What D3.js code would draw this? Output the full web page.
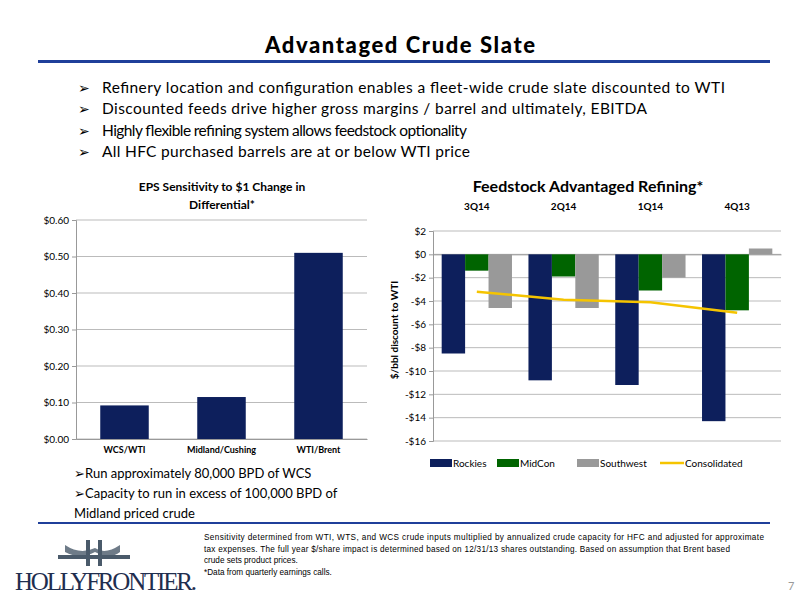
<!DOCTYPE html>
<html><head><meta charset="utf-8">
<script src="https://cdn.jsdelivr.net/npm/d3@7"></script>
<style>body{margin:0;background:#fff}text{font-family:Lato,"Open Sans",sans-serif}</style>
</head><body><div id="vis"></div>
<script>
const bullets = [
  'Refinery location and configuration enables a fleet-wide crude slate discounted to WTI',
  'Discounted feeds drive higher gross margins / barrel and ultimately, EBITDA',
  'Highly flexible refining system allows feedstock optionality',
  'All HFC purchased barrels are at or below WTI price'];
const epsCats = ['WCS/WTI', 'Midland/Cushing', 'WTI/Brent'];
const epsVals = [0.092, 0.115, 0.51];
const epsTicks = [0, 0.1, 0.2, 0.3, 0.4, 0.5, 0.6];
const quarters = ['3Q14', '2Q14', '1Q14', '4Q13'];
const seriesNames = ['Rockies', 'MidCon', 'Southwest'];
const rockies = [-8.5, -10.8, -11.2, -14.3];
const midcon = [-1.4, -1.9, -3.1, -4.8];
const southwest = [-4.6, -4.6, -2.0, 0.5];
const consolidated = [-3.2, -3.9, -4.1, -5.0];
const feedTicks = [2, 0, -2, -4, -6, -8, -10, -12, -14, -16];
const colors = ['#0d1f5c', '#006400', '#999999'];
const lineColor = '#f5c400';

const svg = d3.select('#vis').append('svg').attr('width', 800).attr('height', 600);

// header
svg.append('text').attr('x', 265).attr('y', 53)
  .attr('font-size', 22).attr('font-weight', 900).attr('textLength', 270).text('Advantaged Crude Slate');
svg.append('rect').attr('x', 38).attr('y', 60).attr('width', 732).attr('height', 3).attr('fill', '#1f3f9a');
bullets.forEach((b, i) => {
  svg.append('text').attr('x', 78).attr('y', 93 + i * 21.3).attr('font-size', 14).text('\u27A2');
  svg.append('text').attr('x', 102).attr('y', 93 + i * 21.3).attr('font-size', 15.5).attr('textLength', [623, 545, 365, 368][i]).text(b);
});

// left chart
const L = {x0: 76, x1: 367, y0: 220, y1: 439};
const lx = d3.scaleBand().domain(epsCats).range([L.x0, L.x1]).paddingInner(0.5).paddingOuter(0.25);
const ly = d3.scaleLinear().domain([0, 0.6]).range([L.y1, L.y0]);
svg.append('text').attr('x', 222).attr('y', 191).attr('text-anchor', 'middle').attr('font-size', 12).attr('font-weight', 'bold').text('EPS Sensitivity to $1 Change in');
svg.append('text').attr('x', 222).attr('y', 209).attr('text-anchor', 'middle').attr('font-size', 12).attr('font-weight', 'bold').text('Differential*');
svg.append('g').selectAll('line').data(epsTicks).join('line')
  .attr('x1', L.x0).attr('x2', L.x1).attr('y1', d => ly(d)).attr('y2', d => ly(d)).attr('stroke', '#bbb');
svg.append('g').attr('transform', `translate(${L.x0},0)`)
  .call(d3.axisLeft(ly).tickValues(epsTicks).tickFormat(d3.format('$.2f')).tickSize(4))
  .call(g => g.selectAll('line,path').attr('stroke', '#999'))
  .call(g => g.selectAll('text').attr('font-size', 10).attr('fill', '#000'));
svg.append('g').attr('transform', `translate(0,${L.y1})`)
  .call(d3.axisBottom(lx).tickSize(0).tickPadding(8))
  .call(g => g.select('path').attr('stroke', '#999'))
  .call(g => g.selectAll('text').attr('font-size', 9).attr('font-weight', 'bold').attr('fill', '#000'));
svg.append('g').selectAll('rect').data(epsVals).join('rect')
  .attr('x', (d, i) => lx(epsCats[i])).attr('width', lx.bandwidth())
  .attr('y', d => ly(d)).attr('height', d => L.y1 - ly(d)).attr('fill', colors[0]);
[['\u27A2Run approximately 80,000 BPD of WCS', 478], ['\u27A2Capacity to run in excess of 100,000 BPD of', 498], ['Midland priced crude', 518]]
  .forEach(([t, y]) => svg.append('text').attr('x', 74).attr('y', y).attr('font-size', 13).text(t));

// right chart
const R = {x0: 433, x1: 781, y0: 231, y1: 441};
const rx = d3.scaleBand().domain(quarters).range([R.x0, R.x1]).paddingInner(0.19).paddingOuter(0.1);
const rs = d3.scaleBand().domain(seriesNames).range([0, rx.bandwidth()]);
const ry = d3.scaleLinear().domain([-16, 2]).range([R.y1, R.y0]);
svg.append('text').attr('x', 588).attr('y', 192).attr('text-anchor', 'middle').attr('font-size', 16).attr('font-weight', 'bold').text('Feedstock Advantaged Refining*');
svg.append('g').selectAll('line').data(feedTicks).join('line')
  .attr('x1', R.x0).attr('x2', R.x1).attr('y1', d => ry(d)).attr('y2', d => ry(d)).attr('stroke', '#bbb');
svg.append('g').attr('transform', `translate(${R.x0},0)`)
  .call(d3.axisLeft(ry).tickValues(feedTicks).tickFormat(d => (d < 0 ? '-$' : '$') + Math.abs(d)).tickSize(4))
  .call(g => g.selectAll('line,path').attr('stroke', '#999'))
  .call(g => g.selectAll('text').attr('font-size', 10).attr('fill', '#000'));
svg.append('g').attr('transform', `translate(0,${ry(0)})`)
  .call(d3.axisTop(rx).tickSize(0).tickPadding(ry(0) - 215 + 5))
  .call(g => g.select('path').attr('stroke', '#999'))
  .call(g => g.selectAll('text').attr('font-size', 10).attr('font-weight', 'bold').attr('fill', '#000'));
svg.append('text').attr('transform', 'translate(398,330) rotate(-90)').attr('text-anchor', 'middle')
  .attr('font-size', 10).attr('font-weight', 'bold').text('$/bbl discount to WTI');
[rockies, midcon, southwest].forEach((vals, s) => {
  svg.append('g').selectAll('rect').data(vals).join('rect')
    .attr('x', (d, i) => rx(quarters[i]) + rs(seriesNames[s])).attr('width', rs.bandwidth())
    .attr('y', d => ry(Math.max(0, d))).attr('height', d => Math.abs(ry(d) - ry(0))).attr('fill', colors[s]);
});
svg.append('path').datum(consolidated)
  .attr('d', d3.line().x((d, i) => rx(quarters[i]) + rx.bandwidth() / 2).y(d => ry(d)))
  .attr('fill', 'none').attr('stroke', lineColor).attr('stroke-width', 2.5);
// legend
const legend = [[0, 430], [1, 497], [2, 577]];
legend.forEach(([s, x]) => {
  svg.append('rect').attr('x', x).attr('y', 459).attr('width', 22).attr('height', 8).attr('fill', colors[s]);
  svg.append('text').attr('x', x + 23).attr('y', 467).attr('font-size', 10).text(seriesNames[s]);
});
svg.append('line').attr('x1', 660).attr('x2', 684).attr('y1', 463).attr('y2', 463).attr('stroke', lineColor).attr('stroke-width', 2.5);
svg.append('text').attr('x', 685).attr('y', 467).attr('font-size', 10).text('Consolidated');

// footer
svg.append('rect').attr('x', 38).attr('y', 522).attr('width', 732).attr('height', 2).attr('fill', '#1f3f9a');
['Sensitivity determined from WTI, WTS, and WCS crude inputs multiplied by annualized crude capacity for HFC and adjusted for approximate',
 'tax expenses.  The full year $/share impact is determined based on 12/31/13 shares outstanding. Based on assumption that Brent based',
 'crude sets product prices.', '*Data from quarterly earnings calls.'].forEach((t, i) =>
  svg.append('text').attr('x', 204).attr('y', 540 + i * 11.5).attr('font-size', 8.2)
    .style('font-family', '"Liberation Sans Narrow","Liberation Sans",sans-serif')
    .attr('textLength', i < 2 ? [560, 526][i] : null).text(t));
// logo
const logo = svg.append('g').attr('fill', '#4a5a6a');
logo.append('path').attr('d', 'M65,545 Q80,555 95,548 L95,552 Q80,560 65,552Z M120,545 Q105,555 95,548 L95,552 Q110,560 120,552Z').attr('opacity', 0.8);
logo.append('path').attr('d', 'M58,555 L130,555 L130,559 L58,559Z');
logo.append('rect').attr('x', 86).attr('y', 540).attr('width', 4).attr('height', 26);
logo.append('rect').attr('x', 98).attr('y', 540).attr('width', 4).attr('height', 26);
svg.append('text').attr('x', 15).attr('y', 590).attr('font-size', 25).attr('fill', '#1f2e4f')
  .style('font-family', '"Liberation Serif",serif').attr('textLength', 182).text('HOLLYFRONTIER.');
svg.append('text').attr('x', 788).attr('y', 590).attr('font-size', 11).attr('fill', '#999').text('7');
</script></body></html>
